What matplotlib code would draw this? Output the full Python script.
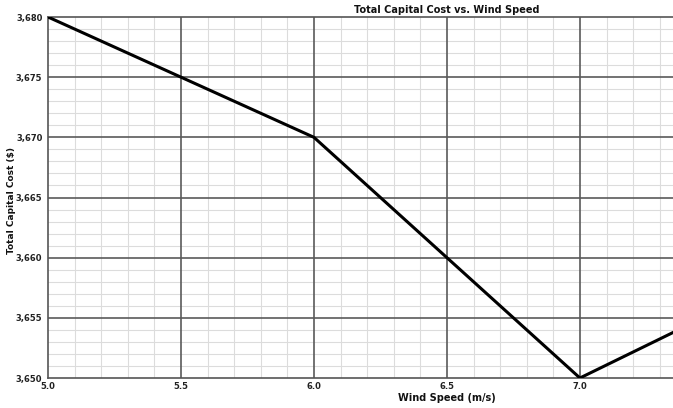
import matplotlib
matplotlib.use("Agg")
import matplotlib.pyplot as plt
from matplotlib.ticker import MultipleLocator, FuncFormatter

wind_speed = [5.0, 5.5, 6.0, 6.5, 7.0, 7.5]
capital_cost = [3680, 3675, 3670, 3660, 3650, 3655.4]

fig = plt.figure(figsize=(6.73, 4.08), dpi=100)
ax = fig.add_axes([48/673, 1-378/408, 1-48/673, (378-17)/408])

ax.set_xlim(5.0, 7.35)
ax.set_ylim(3650, 3680)
ax.xaxis.set_major_locator(MultipleLocator(0.5))
ax.xaxis.set_minor_locator(MultipleLocator(0.1))
ax.yaxis.set_major_locator(MultipleLocator(5))
ax.yaxis.set_minor_locator(MultipleLocator(1))
ax.yaxis.set_major_formatter(FuncFormatter(lambda v, p: f"{int(round(v)):,}"))
ax.xaxis.set_major_formatter(FuncFormatter(lambda v, p: f"{v:.1f}"))

ax.grid(which="minor", color="#dcdcdc", linewidth=0.8)
ax.set_axisbelow(True)
for xv in ax.get_xticks():
    if 5.0 < xv <= 7.35:
        ax.axvline(xv, color="#5a5a5a", linewidth=1.2, zorder=2)
for yv in ax.get_yticks():
    if 3650 < yv < 3680:
        ax.axhline(yv, color="#5a5a5a", linewidth=1.2, zorder=2)

ax.plot(wind_speed, capital_cost, color="black", linewidth=2.2, zorder=5, clip_on=True)

for s in ["left", "bottom", "top"]:
    ax.spines[s].set_color("#555555")
    ax.spines[s].set_linewidth(1.2)
ax.spines["right"].set_visible(False)

ax.tick_params(which="both", length=0, pad=3)
ax.tick_params(axis="y", pad=4)
for lab in ax.get_xticklabels() + ax.get_yticklabels():
    lab.set_fontsize(6)
    lab.set_fontweight("bold")
    lab.set_color("#222222")

fig.text(447/673, 1-10/408, "Total Capital Cost vs. Wind Speed", ha="center", va="center",
         fontsize=7, fontweight="bold", color="#111111")
fig.text(447/673, 1-398/408, "Wind Speed (m/s)", ha="center", va="center",
         fontsize=7, fontweight="bold", color="#111111")
fig.text(12/673, 1-200/408, "Total Capital Cost ($)", ha="center", va="center",
         rotation=90, fontsize=6.5, fontweight="bold", color="#111111")

fig.savefig("out.png", dpi=100)
